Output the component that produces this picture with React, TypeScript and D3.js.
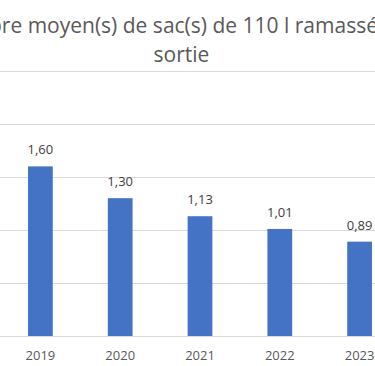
import { useEffect, useRef } from "react";
import * as d3 from "d3";

const years = ["2019", "2020", "2021", "2022", "2023"];
const values = [1.6, 1.3, 1.13, 1.01, 0.89];
const yTicks = [0, 0.5, 1, 1.5, 2, 2.5];
const titleLines = ["Nombre moyen(s) de sac(s) de 110 l ramassé(s) par", "sortie"];

export default function App() {
  const svgRef = useRef<SVGSVGElement>(null);
  const width = 375;
  const height = 366;

  useEffect(() => {
    document.body.style.margin = "0";
    const svg = d3.select(svgRef.current);
    svg.selectAll("*").remove();

    const font = "'Open Sans', sans-serif";

    const x = d3
      .scaleBand()
      .domain(years)
      .range([0.5, 399.5])
      .paddingInner(0.69)
      .paddingOuter(0.345);

    const y = d3.scaleLinear().domain([0, 2.5]).range([336, 71]);

    // Gridlines
    svg
      .append("g")
      .selectAll("line")
      .data(yTicks)
      .join("line")
      .attr("x1", 0)
      .attr("x2", width)
      .attr("y1", d => Math.round(y(d)) + 0.5)
      .attr("y2", d => Math.round(y(d)) + 0.5)
      .attr("stroke", "#d9d9d9")
      .attr("stroke-width", 1);

    // Bars
    svg
      .append("g")
      .selectAll("rect")
      .data(values)
      .join("rect")
      .attr("x", (_, i) => x(years[i])!)
      .attr("width", x.bandwidth())
      .attr("y", d => y(d))
      .attr("height", d => y(0) - y(d))
      .attr("fill", "#4472c4");

    // Data labels
    svg
      .append("g")
      .selectAll("text")
      .data(values)
      .join("text")
      .attr("x", (_, i) => x(years[i])! + x.bandwidth() / 2)
      .attr("y", d => y(d) - 12)
      .attr("text-anchor", "middle")
      .attr("font-family", font)
      .attr("font-size", 13)
      .attr("fill", "#404040")
      .text(d => d.toFixed(2).replace(".", ","));

    // Category labels
    svg
      .append("g")
      .selectAll("text")
      .data(years)
      .join("text")
      .attr("x", d => x(d)! + x.bandwidth() / 2)
      .attr("y", 360)
      .attr("text-anchor", "middle")
      .attr("font-family", font)
      .attr("font-size", 13)
      .attr("fill", "#595959")
      .text(d => d);

    // Title (chart is cropped, so line 1 runs past both edges)
    svg
      .append("g")
      .selectAll("text")
      .data(titleLines)
      .join("text")
      .attr("x", (_, i) => (i === 0 ? 190 : 181.5))
      .attr("y", (_, i) => 33 + i * 29)
      .attr("text-anchor", "middle")
      .attr("font-family", font)
      .attr("font-size", 21)
      .attr("fill", "#595959")
      .text(d => d);
  }, []);

  return <svg ref={svgRef} width={width} height={height} style={{ display: "block" }} />;
}
